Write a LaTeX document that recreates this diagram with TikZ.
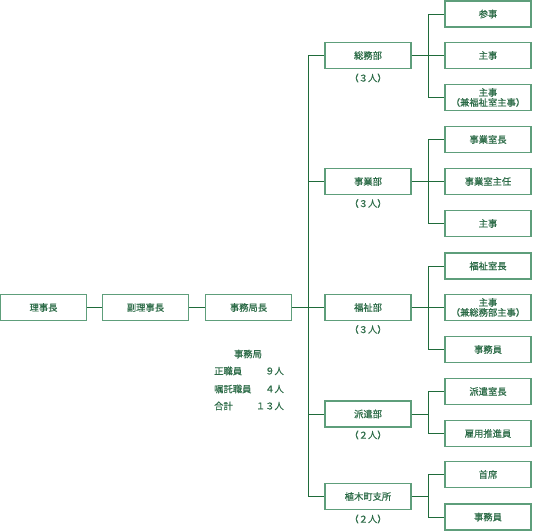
\documentclass[tikz,border=0pt]{standalone}
\usepackage{fontspec}
\setmainfont{Noto Sans CJK JP}[FakeBold=0.5]
\definecolor{boxc}{HTML}{5E9E7B}
\definecolor{linec}{HTML}{1F6B3A}
\definecolor{txtc}{HTML}{2C6B47}
\tikzset{
  box/.style={draw=boxc, line width=1.3pt, minimum width=86pt, minimum height=26pt, inner sep=0pt, text=txtc, font=\fontsize{9.3}{10}\selectfont, align=center},
  cnt/.style={text=txtc, font=\fontsize{9.3}{10}\selectfont, inner sep=0pt},
  conn/.style={draw=linec, line width=1pt}
}
\begin{document}
\begin{tikzpicture}[x=1pt,y=-1pt]
\useasboundingbox (0,0) rectangle (533,531);
% left chain
\node[box] (a1) at (43.5,307.5) {理事長};
\node[box] (a2) at (145.5,307.5) {副理事長};
\node[box] (a3) at (248.5,307.5) {事務局長};
% departments
\node[box] (d1) at (368,55.5) {総務部};
\node[box] (d2) at (368,181.5) {事業部};
\node[box] (d3) at (368,307.5) {福祉部};
\node[box] (d4) at (368,414) {派遣部};
\node[box] (d5) at (368,496.5) {植木町支所};
\node[cnt] (c1) at (368,78) {（３人）};
\node[cnt] (c2) at (368,203.5) {（３人）};
\node[cnt] (c3) at (368,329.5) {（３人）};
\node[cnt] (c4) at (368,435) {（２人）};
\node[cnt] (c5) at (368,519) {（２人）};
% right boxes
\node[box] (r1) at (488,14) {参事};
\node[box] (r2) at (488,55.5) {主事};
\node[box] (r3) at (488,97.5) {主事\\（兼福祉室主事）};
\node[box] (r4) at (488,139.5) {事業室長};
\node[box] (r5) at (488,181.5) {事業室主任};
\node[box] (r6) at (488,223.5) {主事};
\node[box] (r7) at (488,266) {福祉室長};
\node[box] (r8) at (488,307.5) {主事\\（兼総務部主事）};
\node[box] (r9) at (488,349.5) {事務員};
\node[box] (r10) at (488,391.5) {派遣室長};
\node[box] (r11) at (488,433.5) {雇用推進員};
\node[box] (r12) at (488,474.5) {首席};
\node[box] (r13) at (488,517) {事務員};
% staff text
\node[cnt] (s0) at (248,354) {事務局};
\node[cnt, anchor=west] (s1) at (214,371) {正職員};
\node[cnt, anchor=east] (n1) at (284,371) {９人};
\node[cnt, anchor=west] (s2) at (214,389) {嘱託職員};
\node[cnt, anchor=east] (n2) at (284,389) {４人};
\node[cnt, anchor=west] (s3) at (214,406) {合計};
\node[cnt, anchor=east] (n3) at (284,406) {１３人};
% trunk
\coordinate (t1) at (308,55.5);
\coordinate (t2) at (308,181.5);
\coordinate (t3) at (308,307.5);
\coordinate (t4) at (308,414);
\coordinate (t5) at (308,496.5);
\draw[conn] (a1) -- (a2);
\draw[conn] (a2) -- (a3);
\draw[conn] (a3) -- (t3);
\draw[conn] (t1) -- (t5);
\foreach \i in {1,...,5} { \draw[conn] (t\i) -- (d\i.west); }
% branches
\coordinate (b1) at (428,55.5);
\coordinate (b2) at (428,181.5);
\coordinate (b3) at (428,307.5);
\coordinate (b4) at (428,414);
\coordinate (b5) at (428,496.5);
\draw[conn] (d1.east) -- (b1);
\draw[conn] (d2.east) -- (b2);
\draw[conn] (d3.east) -- (b3);
\draw[conn] (d4.east) -- (b4);
\draw[conn] (d5.east) -- (b5);
\draw[conn] (b1) |- (r1.west); \draw[conn] (b1) -- (r2.west); \draw[conn] (b1) |- (r3.west);
\draw[conn] (b2) |- (r4.west); \draw[conn] (b2) -- (r5.west); \draw[conn] (b2) |- (r6.west);
\draw[conn] (b3) |- (r7.west); \draw[conn] (b3) -- (r8.west); \draw[conn] (b3) |- (r9.west);
\draw[conn] (b4) |- (r10.west); \draw[conn] (b4) |- (r11.west);
\draw[conn] (b5) |- (r12.west); \draw[conn] (b5) |- (r13.west);
\end{tikzpicture}
\end{document}
